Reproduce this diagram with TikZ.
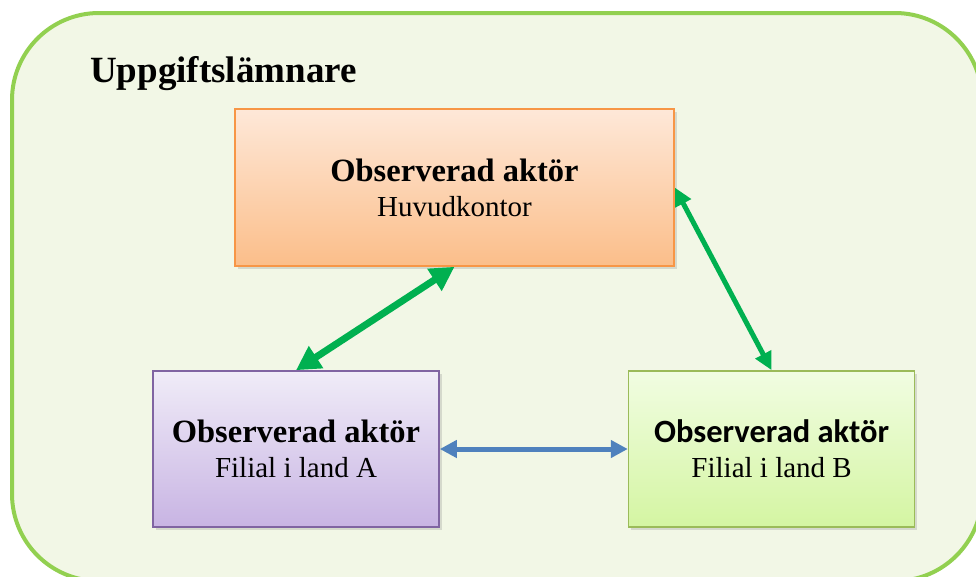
\documentclass[tikz,border=0pt]{standalone}
\usepackage{fontspec}
\setmainfont{Liberation Serif}
\newfontfamily\calibrifont{Carlito}
\usepackage{tikz}
\usetikzlibrary{arrows.meta,positioning,shadows}
\definecolor{frameLine}{HTML}{92D050}
\definecolor{frameFill}{HTML}{F2F7E6}
\definecolor{hqLine}{HTML}{F79646}
\definecolor{hqTop}{HTML}{FEE8D8}
\definecolor{hqBottom}{HTML}{FBBE8A}
\definecolor{aLine}{HTML}{8064A2}
\definecolor{aTop}{HTML}{F0ECF8}
\definecolor{aBottom}{HTML}{C8B4E3}
\definecolor{bLine}{HTML}{9BBB59}
\definecolor{bTop}{HTML}{F1FDE2}
\definecolor{bBottom}{HTML}{D4F5A2}
\definecolor{linkGreen}{HTML}{00B050}
\definecolor{linkBlue}{HTML}{4F81BD}

\begin{document}
\begin{tikzpicture}[
  x=1pt, y=-1pt,
  actor/.style={draw, line width=1.6pt, minimum width=286pt, minimum height=156pt, align=center, inner sep=0pt,
    font=\fontsize{29}{35}\selectfont,
    drop shadow={opacity=0.25, shadow xshift=2.5pt, shadow yshift=-3pt}},
  link/.style={{Triangle[length=17pt,width=17pt]}-{Triangle[length=17pt,width=17pt]}, line width=5pt}
]
  \useasboundingbox (0,0) rectangle (976,576);
  \draw[draw=frameLine, fill=frameFill, line width=4pt, rounded corners=87pt] (12,13) rectangle (982,581);
  \node[anchor=base west, inner sep=0pt, font=\fontsize{37}{44}\selectfont\bfseries] (title) at (90,82) {Uppgiftslämnare};

  \node[actor, draw=hqLine, top color=hqTop, bottom color=hqBottom, minimum width=439pt, minimum height=157pt] (hq) at (454.5,187.5)
    {{\fontsize{32.5}{35}\selectfont\bfseries Observerad aktör}\\Huvudkontor};
  \node[actor, draw=aLine, top color=aTop, bottom color=aBottom] (filialA) at (296,449)
    {{\fontsize{32.5}{35}\selectfont\bfseries Observerad aktör}\\Filial i land A};
  \node[actor, draw=bLine, top color=bTop, bottom color=bBottom, right=188pt of filialA] (filialB)
    {{\calibrifont\fontsize{32.5}{35}\selectfont\bfseries Observerad aktör}\\Filial i land B};

  \draw[link, linkGreen, line width=7pt, {Triangle[length=24pt,width=25pt]}-{Triangle[length=24pt,width=25pt]}] (hq.south) -- (filialA.north);
  \draw[link, linkGreen, {Triangle[length=18pt,width=17pt]}-{Triangle[length=18pt,width=17pt]}] (hq.east) -- (filialB.north);
  \draw[link, linkBlue] (filialA.east) -- (filialB.west);
\end{tikzpicture}
\end{document}
